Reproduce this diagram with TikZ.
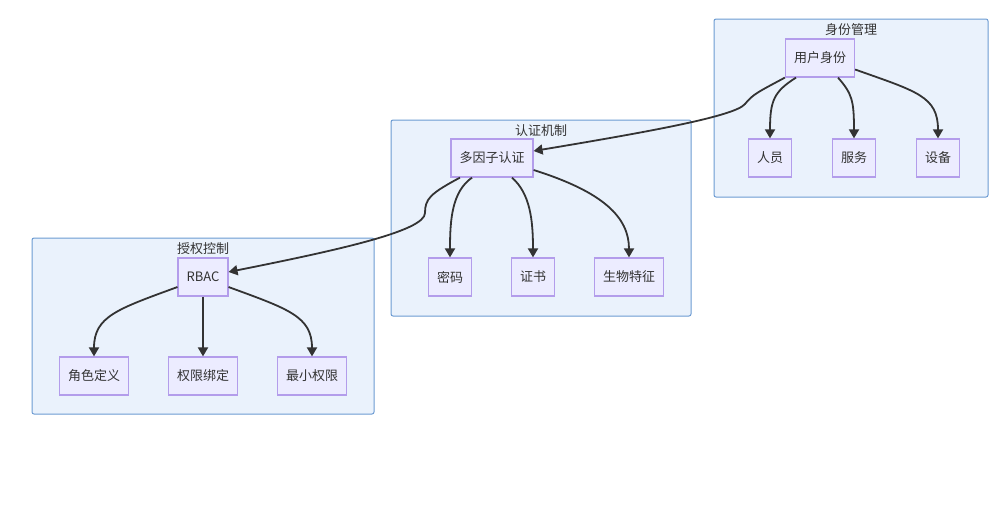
\documentclass[tikz,border=0pt]{standalone}
\usepackage{fontspec}
\setmainfont{Noto Sans CJK SC}
\usetikzlibrary{arrows.meta}
\definecolor{clfill}{HTML}{EAF2FC}
\definecolor{cldraw}{HTML}{6C9BD2}
\definecolor{ndfill}{HTML}{ECECFF}
\definecolor{nddraw}{HTML}{B39DEB}
\definecolor{txt}{HTML}{333333}
\begin{document}
\begin{tikzpicture}[x=1pt, y=-1pt,
        box/.style={draw=nddraw, fill=ndfill, line width=1.2pt, minimum height=38pt, inner xsep=8.5pt, text=txt, font=\fontsize{13}{15}\selectfont},
        title/.style={text=txt, inner sep=0pt, font=\fontsize{13}{15}\selectfont},
        cluster/.style={fill=clfill, draw=cldraw, rounded corners=2pt, line width=1pt},
        edge/.style={draw=txt, line width=1.8pt, -{Triangle[length=9pt,width=10pt]}}]
        \useasboundingbox (0,0) rectangle (1004,512);
        \filldraw[cluster] (714,19) rectangle (988,197);
        \filldraw[cluster] (391,120) rectangle (691,316);
        \filldraw[cluster] (32,238) rectangle (374,414);
        
        \node[title] (t1) at (851,30) {身份管理};
        \node[title] (t2) at (541,131) {认证机制};
        \node[title] (t3) at (203,249) {授权控制};
        
        \node[box] (yh) at (820,58) {用户身份};
        \node[box] (ry) at (770,158) {人员};
        \node[box] (fw) at (854,158) {服务};
        \node[box] (sb) at (938,158) {设备};
        
        \node[box] (dz) at (492,158) {多因子认证};
        \node[box] (mm) at (450,277) {密码};
        \node[box] (zs) at (533,277) {证书};
        \node[box] (sw) at (629,277) {生物特征};
        
        \node[box] (rb) at (203,277) {RBAC};
        \node[box] (js) at (94,376) {角色定义};
        \node[box] (qx) at (203,376) {权限绑定};
        \node[box] (zx) at (312,376) {最小权限};
        
        \coordinate (bend1) at (745,104);
        \coordinate (bend2) at (425,213);
        
        \draw[edge] ([xshift=-24pt]yh.south) .. controls +(-22,14) and +(0,-38) .. (ry.north);
        \draw[edge] ([xshift=18pt]yh.south) .. controls +(14,16) and +(0,-38) .. (fw.north);
        \draw[edge] ([yshift=-11.5pt]yh.east) .. controls +(62,22) and +(0,-42) .. (sb.north);
        \draw[edge] (yh.south west) .. controls +(-26,14) and +(8,-10) .. (bend1) .. controls +(-10,12) and +(120,-20) .. ([yshift=7pt]dz.east);
        
        \draw[edge] ([xshift=-32pt]dz.south) .. controls +(-30,16) and +(0,-14) .. (bend2) .. controls +(0,18) and +(110,-22) .. ([yshift=5pt]rb.east);
        \draw[edge] ([xshift=-20pt]dz.south) .. controls +(-20,14) and +(0,-38) .. (mm.north);
        \draw[edge] ([xshift=20pt]dz.south) .. controls +(18,16) and +(0,-38) .. (zs.north);
        \draw[edge] ([yshift=-12pt]dz.east) .. controls +(70,22) and +(0,-40) .. (sw.north);
        
        \draw[edge] ([yshift=-10pt]rb.west) .. controls +(-60,22) and +(0,-40) .. (js.north);
        \draw[edge] (rb.south) -- (qx.north);
        \draw[edge] ([yshift=-10pt]rb.east) .. controls +(60,22) and +(0,-40) .. (zx.north);
    \end{tikzpicture}
\end{document}
